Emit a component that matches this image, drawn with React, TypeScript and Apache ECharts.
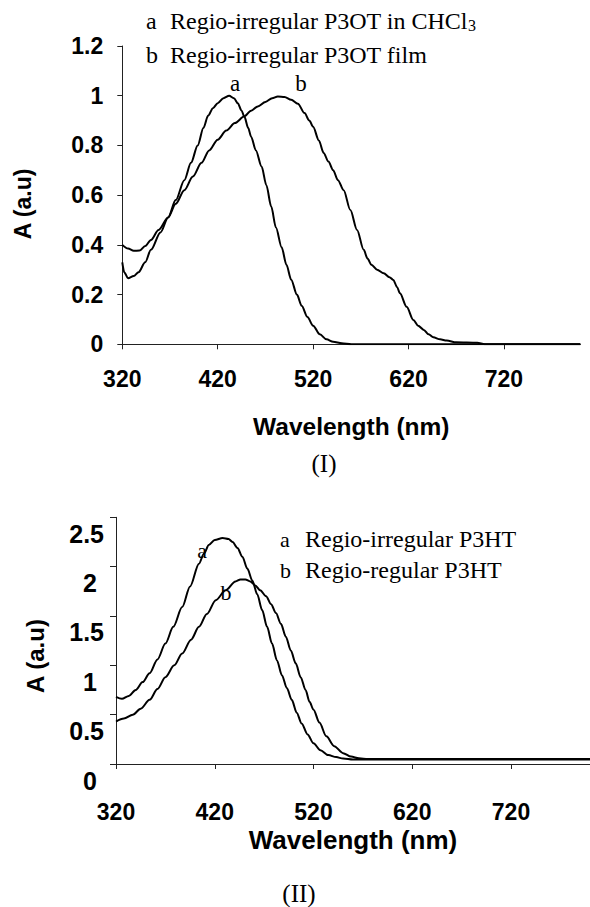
import React, { useEffect, useRef } from "react";
import * as echarts from "echarts";

// ---- Data ----
const X_TICKS = [320, 420, 520, 620, 720];

// Chart I, curve a: Regio-irregular P3OT in CHCl3
const waveIa = [320, 322, 326, 332, 337, 344, 350, 360, 368, 376, 385, 392, 399, 405, 410, 415, 420, 426, 432, 437, 441, 445, 448, 452, 455, 460, 466, 471, 476, 481, 487, 492, 497, 503, 508, 514, 520, 527, 534, 541, 550, 560, 800];
const absIa = [0.33, 0.29, 0.266, 0.275, 0.29, 0.33, 0.38, 0.45, 0.51, 0.58, 0.66, 0.73, 0.8, 0.87, 0.92, 0.95, 0.97, 0.99, 1.0, 0.99, 0.97, 0.94, 0.915, 0.87, 0.835, 0.78, 0.715, 0.64, 0.555, 0.47, 0.39, 0.32, 0.26, 0.2, 0.155, 0.11, 0.075, 0.04, 0.02, 0.01, 0.004, 0.0, 0.0];

// Chart I, curve b: Regio-irregular P3OT film
const waveIb = [320, 326, 332, 338, 344, 350, 358, 368, 376, 385, 394, 403, 411, 420, 429, 438, 448, 455, 462, 470, 477, 483, 490, 497, 504, 511, 516, 520, 526, 531, 536, 541, 546, 552, 559, 566, 573, 577, 581, 587, 594, 600, 604, 608, 611, 618, 625, 630, 636, 641, 646, 653, 660, 670, 692, 700, 800];
const absIb = [0.4, 0.385, 0.376, 0.377, 0.395, 0.42, 0.46, 0.51, 0.565, 0.62, 0.675, 0.73, 0.78, 0.823, 0.86, 0.89, 0.917, 0.94, 0.957, 0.975, 0.99, 0.997, 0.995, 0.984, 0.968, 0.93, 0.9, 0.875, 0.82, 0.77, 0.735, 0.7, 0.66, 0.62, 0.54, 0.46, 0.38, 0.345, 0.32, 0.3, 0.286, 0.27, 0.259, 0.23, 0.205, 0.151, 0.098, 0.075, 0.058, 0.04, 0.028, 0.02, 0.015, 0.008, 0.006, 0.0, 0.0];

// Chart II, curve a: Regio-irregular P3HT
const waveIIa = [320, 326, 333, 340, 347, 354, 362, 370, 378, 387, 395, 404, 409, 414, 420, 428, 434, 438, 443, 448, 453, 458, 463, 468, 473, 478, 483, 488, 493, 498, 503, 508, 514, 520, 527, 535, 543, 550, 560, 800];
const absIIa = [0.68, 0.66, 0.69, 0.75, 0.83, 0.92, 1.06, 1.22, 1.39, 1.59, 1.8, 2.03, 2.13, 2.22, 2.27, 2.29, 2.28, 2.25, 2.19, 2.1, 1.98, 1.86, 1.72, 1.56, 1.39, 1.22, 1.05, 0.9, 0.77, 0.65, 0.52, 0.41, 0.3, 0.21, 0.14, 0.09, 0.07, 0.055, 0.045, 0.045];

// Chart II, curve b: Regio-regular P3HT
const waveIIb = [320, 328, 337, 345, 354, 362, 370, 379, 387, 396, 404, 412, 421, 431, 441, 446, 451, 456, 461, 466, 472, 477, 482, 487, 492, 497, 502, 507, 512, 516, 520, 526, 533, 541, 550, 558, 566, 575, 800];
const absIIb = [0.43, 0.46, 0.5, 0.56, 0.65, 0.76, 0.88, 1.0, 1.12, 1.26, 1.39, 1.52, 1.66, 1.76, 1.85, 1.87, 1.87, 1.85, 1.81, 1.76, 1.7, 1.62, 1.53, 1.42, 1.29, 1.15, 1.02, 0.88, 0.75, 0.63, 0.55, 0.42, 0.28, 0.18, 0.11, 0.075, 0.058, 0.05, 0.05];

const legendI = ["Regio-irregular P3OT in CHCl", "Regio-irregular P3OT film"];
const legendII = ["Regio-irregular P3HT", "Regio-regular P3HT"];

const SANS = '"Liberation Sans", Arial, sans-serif';
const SERIF = '"Liberation Serif", "Times New Roman", serif';

const pairs = (xs: number[], ys: number[]) => xs.map((x, i) => [x, ys[i]]);

const axisLineStyle = { color: "#222", width: 1 };

function lineSeries(xi: number, xs: number[], ys: number[]) {
  return {
    type: "line",
    xAxisIndex: xi,
    yAxisIndex: xi,
    data: pairs(xs, ys),
    symbol: "none",
    showSymbol: false,
    smooth: 0.3,
    smoothMonotone: "x",
    lineStyle: { color: "#000", width: 2 },
    silent: true,
  };
}

function serifText(x: number, y: number, text: string, size: number, align = "left") {
  return {
    type: "text",
    x,
    y,
    silent: true,
    style: {
      text,
      fill: "#000",
      font: `${size}px ${SERIF}`,
      align,
      verticalAlign: "middle",
      textAlign: align,
      textVerticalAlign: "middle",
    },
  };
}

function yName(x: number, y: number, size: number) {
  return {
    type: "text",
    x,
    y,
    rotation: Math.PI / 2,
    silent: true,
    style: {
      text: "A (a.u)",
      fill: "#000",
      font: `bold ${size}px ${SANS}`,
      align: "center",
      verticalAlign: "middle",
      textAlign: "center",
      textVerticalAlign: "middle",
    },
  };
}

export default function App() {
  const ref = useRef<HTMLDivElement>(null);

  useEffect(() => {
    if (!ref.current) return;
    const chart = echarts.init(ref.current, null, { renderer: "svg" });

    const option: any = {
      animation: false,
      backgroundColor: "#fff",
      grid: [
        { left: 122.3, top: 46, width: 458, height: 298.3 },
        { left: 116, top: 517.3, width: 475.7, height: 246.7 },
      ],
      xAxis: [
        {
          gridIndex: 0,
          type: "value",
          min: 320,
          max: 800,
          axisLine: { show: true, onZero: false, lineStyle: axisLineStyle },
          axisTick: { show: true, length: 5, customValues: X_TICKS, lineStyle: axisLineStyle },
          axisLabel: {
            customValues: X_TICKS,
            margin: 23,
            color: "#000",
            fontSize: 23,
            fontWeight: "bold",
            fontFamily: SANS,
          },
          splitLine: { show: false },
          name: "Wavelength (nm)",
          nameLocation: "middle",
          nameGap: 82,
          nameTextStyle: {
            color: "#000",
            fontSize: 24.5,
            fontWeight: "bold",
            fontFamily: SANS,
            verticalAlign: "middle",
          },
        },
        {
          gridIndex: 1,
          type: "value",
          min: 320,
          max: 800,
          axisLine: { show: true, onZero: false, lineStyle: axisLineStyle },
          axisTick: { show: true, length: 5, customValues: X_TICKS, lineStyle: axisLineStyle },
          axisLabel: {
            customValues: X_TICKS,
            margin: 36,
            color: "#000",
            fontSize: 23,
            fontWeight: "bold",
            fontFamily: SANS,
          },
          splitLine: { show: false },
          name: "Wavelength (nm)",
          nameLocation: "middle",
          nameGap: 76,
          nameTextStyle: {
            color: "#000",
            fontSize: 26,
            fontWeight: "bold",
            fontFamily: SANS,
            verticalAlign: "middle",
          },
        },
      ],
      yAxis: [
        {
          gridIndex: 0,
          type: "value",
          min: 0,
          max: 1.2,
          interval: 0.2,
          axisLine: { show: true, lineStyle: axisLineStyle },
          axisTick: { show: true, length: 5, lineStyle: axisLineStyle },
          axisLabel: {
            margin: 19,
            color: "#000",
            fontSize: 23,
            fontWeight: "bold",
            fontFamily: SANS,
          },
          splitLine: { show: false },
        },
        {
          gridIndex: 1,
          type: "value",
          min: 0,
          max: 2.5,
          interval: 0.5,
          axisLine: { show: true, lineStyle: axisLineStyle },
          axisTick: { show: true, length: 6, lineStyle: axisLineStyle },
          axisLabel: {
            margin: 12,
            verticalAlign: "top",
            padding: [4, 0, 0, 0],
            color: "#000",
            fontSize: 25,
            fontWeight: "bold",
            fontFamily: SANS,
            formatter: (v: number) =>
              Number.isInteger(v) ? `{i|${v}}` : `{d|${v}}`,
            rich: {
              i: { fontSize: 25, fontWeight: "bold", fontFamily: SANS, color: "#000", padding: [0, 7, 0, 0] },
              d: { fontSize: 25, fontWeight: "bold", fontFamily: SANS, color: "#000" },
            },
          },
          splitLine: { show: false },
        },
      ],
      series: [
        lineSeries(0, waveIa, absIa),
        lineSeries(0, waveIb, absIb),
        lineSeries(1, waveIIa, absIIa),
        lineSeries(1, waveIIb, absIIb),
      ],
      graphic: [
        // Chart I legend
        serifText(146, 21, "a", 24),
        {
          type: "text",
          x: 170,
          y: 21,
          silent: true,
          style: {
            text: `{n|${legendI[0]}}{s|3}`,
            align: "left",
            verticalAlign: "middle",
            textAlign: "left",
            textVerticalAlign: "middle",
            rich: {
              n: { fill: "#000", font: `24px ${SERIF}`, lineHeight: 25 },
              s: { fill: "#000", font: `16px ${SERIF}`, lineHeight: 16, verticalAlign: "bottom" },
            },
          },
        },
        serifText(146, 55, "b", 24),
        serifText(170, 55, legendI[1], 24),
        // curve labels chart I
        serifText(235, 83, "a", 23, "center"),
        serifText(301, 83, "b", 23, "center"),
        serifText(324, 463, "(I)", 25, "center"),
        yName(23, 204, 23),
        // Chart II legend
        serifText(280, 539, "a", 22),
        serifText(305, 539, legendII[0], 24),
        serifText(280, 570, "b", 22),
        serifText(305, 570, legendII[1], 24),
        serifText(202, 550, "a", 22, "center"),
        serifText(226, 592, "b", 22, "center"),
        serifText(299, 893, "(II)", 25, "center"),
        yName(35, 656, 24),
      ],
    };

    chart.setOption(option);
    return () => chart.dispose();
  }, []);

  return (
    <div
      ref={ref}
      style={{ position: "absolute", left: 0, top: 0, width: 590, height: 907, background: "#fff" }}
    />
  );
}
